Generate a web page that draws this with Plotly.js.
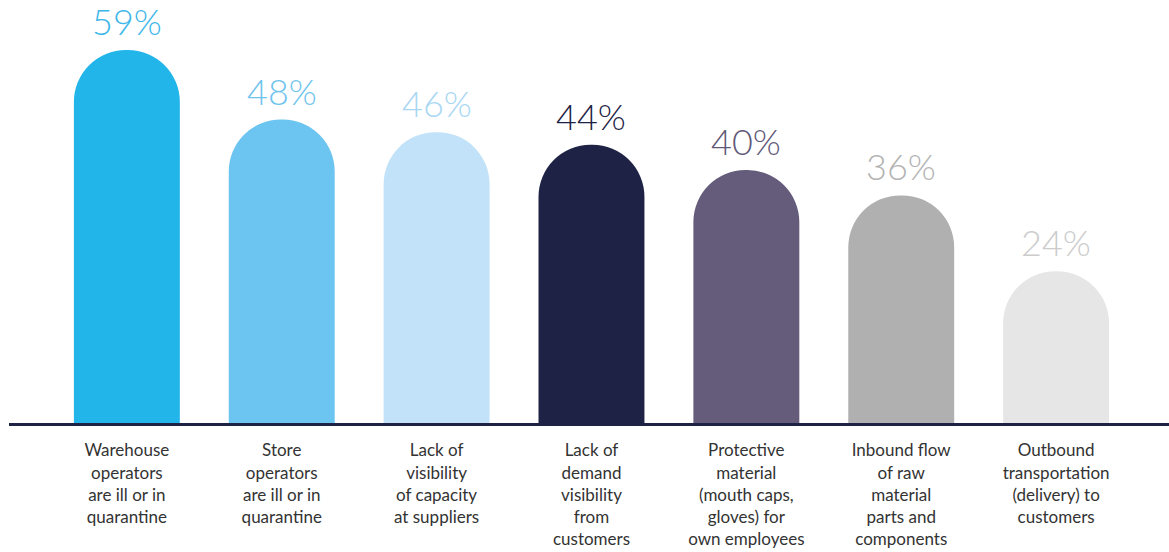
<!DOCTYPE html>
<html>
<head>
<meta charset="utf-8">
<script src="https://cdn.plot.ly/plotly-3.0.1.min.js"></script>
<style>html,body{margin:0;padding:0;background:#fff;}#chart{width:1169px;height:552px;}</style>
</head>
<body>
<div id="chart"></div>
<script>
const categories = [
  "Warehouse<br>operators<br>are ill or in<br>quarantine",
  "Store<br>operators<br>are ill or in<br>quarantine",
  "Lack of<br>visibility<br>of capacity<br>at suppliers",
  "Lack of<br>demand<br>visibility<br>from<br>customers",
  "Protective<br>material<br>(mouth caps,<br>gloves) for<br>own employees",
  "Inbound flow<br>of raw<br>material<br>parts and<br>components",
  "Outbound<br>transportation<br>(delivery) to<br>customers"
];
const values = [59, 48, 46, 44, 40, 36, 24];
const valueLabels = ["59%", "48%", "46%", "44%", "40%", "36%", "24%"];
const barColors = ["#22b5ea", "#6cc4f0", "#c1e2f8", "#1e2245", "#645c7a", "#b0b0b0", "#e6e6e6"];
const labelColors = ["#3db7e9", "#6fc4ee", "#a9d7f3", "#1e2245", "#5f5878", "#b3b3b3", "#cccccc"];

const trace = {
  type: "bar",
  x: categories,
  y: values,
  marker: { color: barColors, cornerradius: "50%" },
  width: 0.684,
  hoverinfo: "none"
};

const annotations = categories.map((c, i) => ({
  x: c, y: values[i], xref: "x", yref: "y",
  text: valueLabels[i], showarrow: false,
  yanchor: "bottom", yshift: 5,
  font: { family: "Lato, 'Open Sans', sans-serif", size: 36, color: labelColors[i], weight: 300 }
}));

const layout = {
  width: 1169, height: 552,
  margin: { l: 9, r: 0, t: 0, b: 129 },
  paper_bgcolor: "#ffffff", plot_bgcolor: "#ffffff",
  showlegend: false,
  xaxis: {
    type: "category",
    range: [-0.761, 6.729],
    showline: true, linecolor: "#1e2245", linewidth: 3,
    showgrid: false, zeroline: false, ticks: "",
    ticklabelstandoff: 10,
    tickfont: { family: "Lato, 'Open Sans', sans-serif", size: 17, color: "#333333" },
    fixedrange: true
  },
  yaxis: {
    range: [0, 66.9],
    visible: false, showgrid: false, zeroline: false, fixedrange: true
  },
  annotations: annotations
};

Plotly.newPlot("chart", [trace], layout, { displayModeBar: false, staticPlot: true });
</script>
</body>
</html>
